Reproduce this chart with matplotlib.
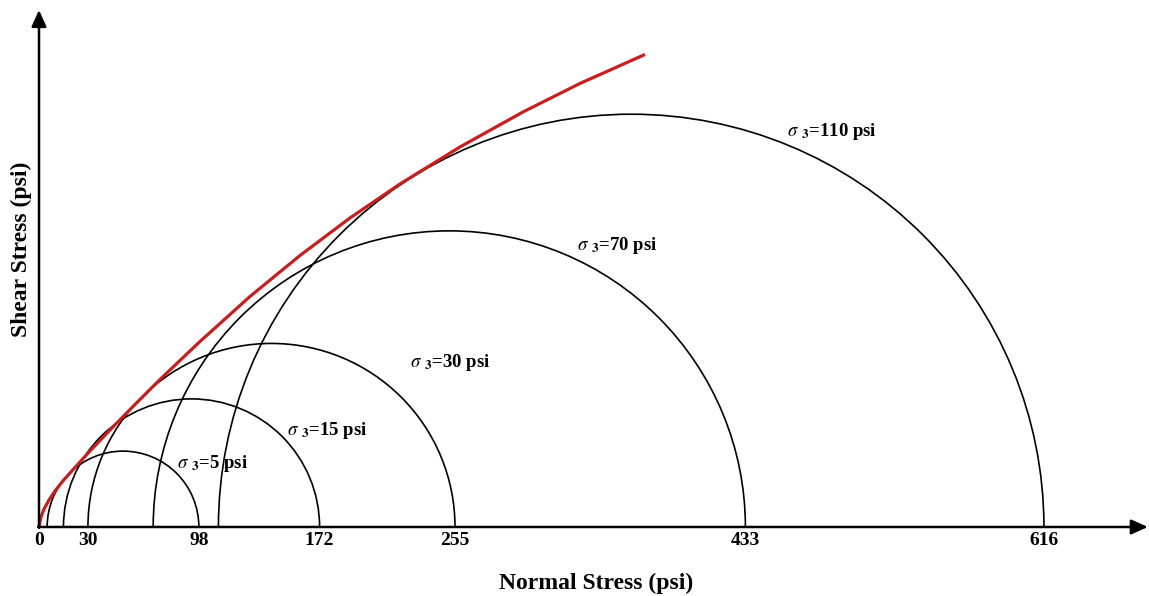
import numpy as np
import matplotlib
matplotlib.use("Agg")
import matplotlib.pyplot as plt
from matplotlib.patches import Arc

plt.rcParams['font.family'] = ['Liberation Serif', 'DejaVu Serif']
plt.rcParams['mathtext.fontset'] = 'stix'

# confining pressure and major principal stress for each test (psi)
sigma3 = [5, 15, 30, 70, 110]
sigma1 = [98, 172, 255, 433, 616]
tick_values = [0, 30, 98, 172, 255, 433, 616]

# failure envelope (psi)
env_sigma = [0, 1.23, 3.07, 6.13, 9.81, 14.10, 19.00, 25.13, 31.26, 43.52, 58.84,
             74.16, 98.68, 129.33, 159.98, 190.62, 221.27, 258.05, 296.67, 331.60, 371.44]
env_tau = [0, 6.13, 11.03, 16.55, 22.07, 27.58, 33.10, 39.84, 46.58, 59.45, 75.08,
           90.41, 113.70, 141.28, 166.41, 189.40, 210.24, 232.92, 254.37, 271.84, 289.61]

# where each circle label sits (left edge, vertical centre)
label_pos = [(84.6, 39.2), (152.0, 59.4), (227.4, 101.1), (329.8, 172.8), (458.5, 242.7)]

fig = plt.figure(figsize=(11.49, 5.96), dpi=100)
ax = fig.add_axes([0, 0, 1, 1])
ax.set_xlim(-23.9, 680.4)
ax.set_ylim(-42.3, 323.0)
ax.axis('off')

for s3, s1, (lx, ly) in zip(sigma3, sigma1, label_pos):
    c = (s3 + s1) / 2.0
    d = s1 - s3
    ax.add_patch(Arc((c, 0), d, d, theta1=0, theta2=180, color='black', lw=1.2))
    ax.text(lx, ly, r"$\sigma\ {}_{\mathbf{3}}$=%d psi" % s3, fontsize=13.5,
            fontweight='bold', ha='left', va='center')

ax.plot(env_sigma, env_tau, color='#c81e1e', lw=2.3, solid_capstyle='butt',
        solid_joinstyle='round')

# axes with arrow heads
arrow = dict(arrowstyle='-|>,head_length=1.0,head_width=0.45', lw=1.8, color='black',
             mutation_scale=10, shrinkA=0, shrinkB=0)
ax.annotate('', xy=(679.7, 0), xytext=(-0.5, 0), arrowprops=arrow)
ax.annotate('', xy=(0, 316.9), xytext=(0, -0.5), arrowprops=arrow)

for v in tick_values:
    ax.text(v, -11.0, str(v), fontsize=14, fontweight='bold', ha='center', va='baseline')

fig.text(596 / 1149, 1 - 583 / 596, 'Normal Stress (psi)', fontsize=17,
         fontweight='bold', ha='center', va='center')
fig.text(21 / 1149, 1 - 249 / 596, 'Shear Stress (psi)', fontsize=17,
         fontweight='bold', ha='center', va='center', rotation=90)

fig.savefig('out.png', dpi=100)
